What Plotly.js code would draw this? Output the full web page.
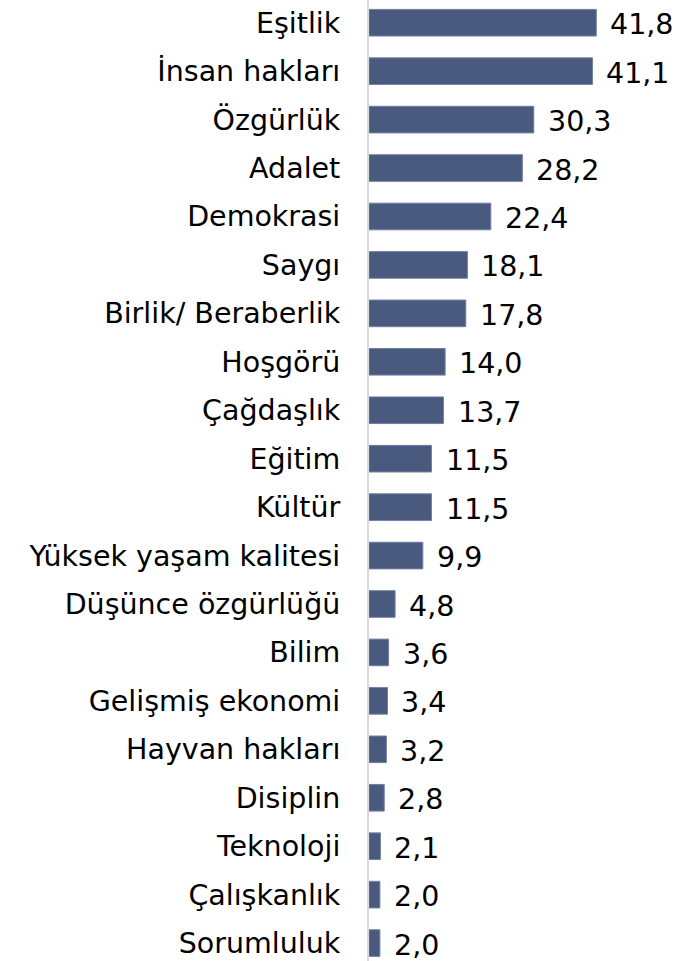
<!DOCTYPE html>
<html><head><meta charset="utf-8">
<script src="https://cdn.plot.ly/plotly-3.0.1.min.js"></script>
<style>html,body{margin:0;padding:0;background:#fff}#chart{width:682px;height:961px}</style>
</head><body><div id="chart"></div>
<script>
var categories = ["Eşitlik","İnsan hakları","Özgürlük","Adalet","Demokrasi","Saygı","Birlik/ Beraberlik","Hoşgörü","Çağdaşlık","Eğitim","Kültür","Yüksek yaşam kalitesi","Düşünce özgürlüğü","Bilim","Gelişmiş ekonomi","Hayvan hakları","Disiplin","Teknoloji","Çalışkanlık","Sorumluluk"];
var values = [41.8,41.1,30.3,28.2,22.4,18.1,17.8,14.0,13.7,11.5,11.5,9.9,4.8,3.6,3.4,3.2,2.8,2.1,2.0,2.0];
var labels = values.map(function(v){return v.toFixed(1).replace('.', ',');});

var fontFam = 'DejaVu Sans, Verdana, sans-serif';
var trace = {
  type: 'bar', orientation: 'h',
  x: values, y: categories,
  marker: {color: '#4a5a7e', line: {color: '#7080a6', width: 1}},
  hoverinfo: 'skip'
};
var annotations = values.map(function(v, i){
  return {x: v, y: categories[i], xref: 'x', yref: 'y', text: labels[i], showarrow: false,
          xanchor: 'left', yanchor: 'middle', xshift: 12, yshift: -2, font: {family: fontFam, size: 28.5, color: '#000'}};
});
var layout = {
  width: 682, height: 961,
  margin: {l: 369, r: 0, t: 0, b: 0},
  paper_bgcolor: '#fff', plot_bgcolor: '#fff',
  bargap: 0.45,
  showlegend: false,
  xaxis: {range: [0, 57.56], visible: false, fixedrange: true},
  yaxis: {type: 'category', range: [19.37, -0.469], showline: true, linecolor: '#d9d9d9', linewidth: 2,
          ticks: 'outside', ticklen: 0, ticklabelstandoff: 21, showgrid: false, zeroline: false,
          tickfont: {family: fontFam, size: 28.5, color: '#000'}},
  annotations: annotations
};
Plotly.newPlot('chart', [trace], layout, {staticPlot: true, displayModeBar: false});
</script></body></html>
